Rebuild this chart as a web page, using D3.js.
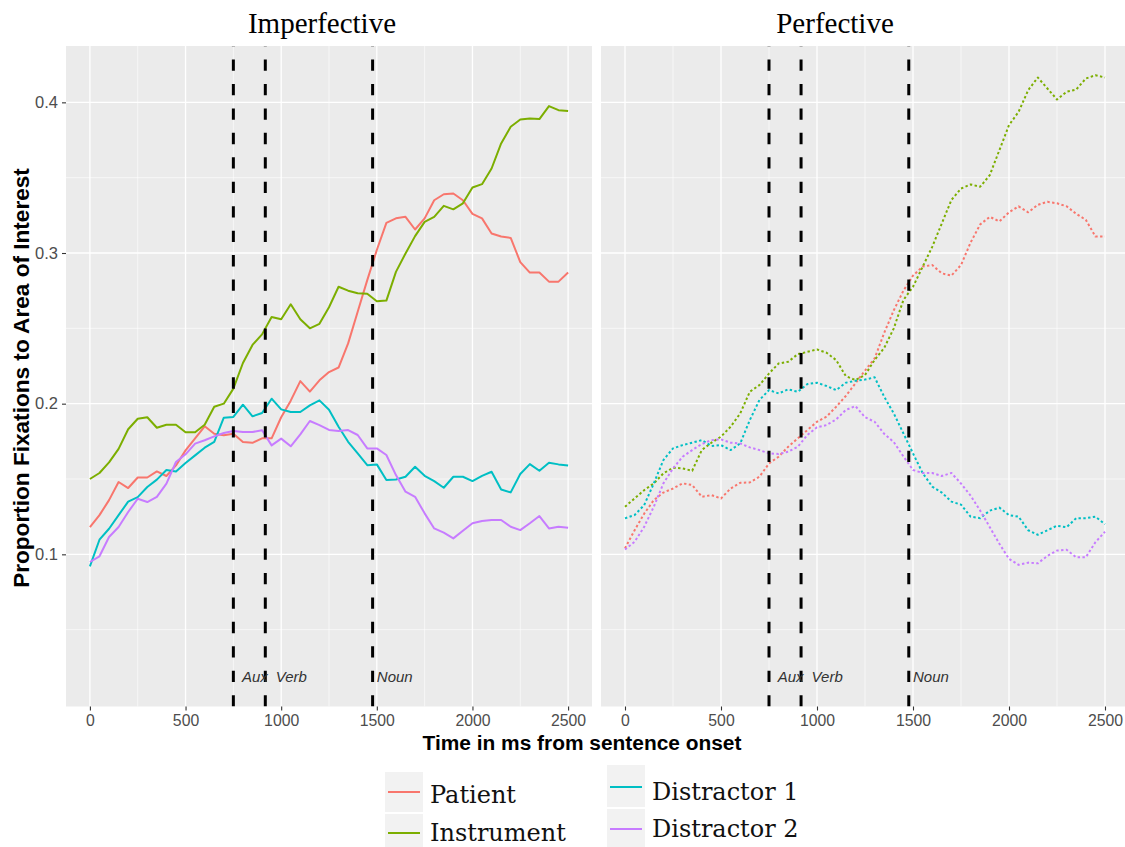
<!DOCTYPE html>
<html>
<head>
<meta charset="utf-8">
<script src="https://cdn.jsdelivr.net/npm/d3@7"></script>
<style>
  html, body { margin: 0; padding: 0; background: #fff; }
  svg { display: block; }
</style>
</head>
<body>
<svg id="chart" width="1125" height="847"></svg>
<script>
// ---------------- DATA ----------------
const panels = ["Imperfective", "Perfective"];
const seriesNames = ["Patient", "Instrument", "Distractor 1", "Distractor 2"];
const seriesColors = ["#F8766D", "#7CAE00", "#00BFC4", "#C77CFF"];

const times = [0, 50, 100, 150, 200, 250, 300, 350, 400, 450, 500, 550, 600, 650, 700, 750, 800, 850, 900, 950,
  1000, 1050, 1100, 1150, 1200, 1250, 1300, 1350, 1400, 1450, 1500, 1550, 1600, 1650, 1700, 1750, 1800, 1850, 1900, 1950,
  2000, 2050, 2100, 2150, 2200, 2250, 2300, 2350, 2400, 2450, 2500];

// Imperfective (solid lines)
const impPatient = [0.118, 0.126, 0.136, 0.148, 0.144, 0.151, 0.151, 0.155, 0.152, 0.159, 0.169, 0.177, 0.185, 0.180, 0.179, 0.180, 0.1746, 0.174, 0.177, 0.177,
  0.191, 0.202, 0.215, 0.208, 0.2155, 0.221, 0.224, 0.240, 0.261, 0.282, 0.302, 0.320, 0.323, 0.324, 0.3156, 0.323, 0.335, 0.339, 0.3395, 0.335,
  0.326, 0.323, 0.313, 0.311, 0.310, 0.294, 0.287, 0.287, 0.281, 0.281, 0.287];
const impInstrument = [0.150, 0.154, 0.161, 0.170, 0.183, 0.190, 0.191, 0.184, 0.186, 0.186, 0.181, 0.181, 0.186, 0.198, 0.200, 0.210, 0.227, 0.239, 0.246, 0.2575,
  0.256, 0.266, 0.256, 0.250, 0.253, 0.264, 0.2776, 0.275, 0.2733, 0.273, 0.268, 0.2684, 0.2875, 0.2997, 0.3112, 0.3207, 0.324, 0.3313, 0.329, 0.333,
  0.3435, 0.3457, 0.3561, 0.3727, 0.3838, 0.3886, 0.3893, 0.3889, 0.3975, 0.3948, 0.3942];
const impDistractor1 = [0.092, 0.1097, 0.117, 0.126, 0.135, 0.138, 0.1447, 0.1496, 0.156, 0.155, 0.1606, 0.1657, 0.1708, 0.1746, 0.1907, 0.1912, 0.1993, 0.1916, 0.1938, 0.2033,
  0.1962, 0.1945, 0.1945, 0.1989, 0.2022, 0.196, 0.1847, 0.1747, 0.167, 0.1592, 0.1597, 0.1493, 0.1497, 0.1515, 0.1581, 0.1521, 0.1486, 0.1442, 0.1515, 0.1515,
  0.1486, 0.1521, 0.1548, 0.1430, 0.1411, 0.1533, 0.1599, 0.1555, 0.1608, 0.1597, 0.1590];
const impDistractor2 = [0.0949, 0.0987, 0.1115, 0.1181, 0.1281, 0.1369, 0.1347, 0.1381, 0.1469, 0.1613, 0.1664, 0.1735, 0.1757, 0.1783, 0.1805, 0.1819, 0.1812, 0.1812, 0.1823, 0.1723,
  0.1768, 0.1717, 0.1796, 0.1885, 0.1858, 0.1826, 0.1818, 0.1825, 0.1792, 0.1703, 0.1703, 0.1659, 0.1526, 0.1416, 0.1382, 0.1272, 0.1172, 0.1144, 0.1106, 0.1157,
  0.1206, 0.1221, 0.1228, 0.1228, 0.1183, 0.1161, 0.1206, 0.1254, 0.1172, 0.1183, 0.1177];

// Perfective (dotted lines)
const perfPatient = [0.104, 0.116, 0.127, 0.136, 0.141, 0.1437, 0.1471, 0.146, 0.1382, 0.1393, 0.1371, 0.1437, 0.1475, 0.1477, 0.1515, 0.1603, 0.1648, 0.1714, 0.177, 0.1825,
  0.188, 0.1914, 0.198, 0.2051, 0.2135, 0.222, 0.230, 0.247, 0.262, 0.275, 0.285, 0.291, 0.292, 0.2865, 0.285, 0.292, 0.307, 0.319, 0.324, 0.321,
  0.327, 0.331, 0.327, 0.332, 0.334, 0.333, 0.331, 0.326, 0.322, 0.311, 0.311];
const perfInstrument = [0.1316, 0.1371, 0.1426, 0.1471, 0.1537, 0.1575, 0.157, 0.1555, 0.1692, 0.1741, 0.1781, 0.1847, 0.1935, 0.2079, 0.2123, 0.220, 0.2267, 0.2278, 0.2329, 0.2344,
  0.236, 0.2338, 0.2289, 0.2183, 0.2157, 0.219, 0.229, 0.237, 0.250, 0.2688, 0.2776, 0.2908, 0.3041, 0.3196, 0.3352, 0.3428, 0.3455, 0.344, 0.3517, 0.3683,
  0.3849, 0.3937, 0.4081, 0.4165, 0.4092, 0.4019, 0.407, 0.4085, 0.4158, 0.418, 0.4165];
const perfDistractor1 = [0.1239, 0.1261, 0.1327, 0.1471, 0.1626, 0.1703, 0.1725, 0.1741, 0.1758, 0.1719, 0.1725, 0.1692, 0.1736, 0.1891, 0.2024, 0.209, 0.2068, 0.2095, 0.2079, 0.213,
  0.2139, 0.2117, 0.209, 0.2139, 0.2152, 0.216, 0.2175, 0.2046, 0.1935, 0.1803, 0.167, 0.154, 0.145, 0.141, 0.135, 0.133, 0.125, 0.124, 0.129, 0.131,
  0.126, 0.125, 0.116, 0.113, 0.116, 0.119, 0.118, 0.124, 0.124, 0.125, 0.120];
const perfDistractor2 = [0.1032, 0.1083, 0.1183, 0.1316, 0.1471, 0.157, 0.1648, 0.1692, 0.1732, 0.1758, 0.1763, 0.1741, 0.1736, 0.171, 0.1692, 0.167, 0.1666, 0.1681, 0.1714, 0.1792,
  0.1843, 0.1858, 0.1896, 0.1958, 0.1984, 0.191, 0.188, 0.180, 0.1745, 0.165, 0.156, 0.154, 0.154, 0.152, 0.154, 0.147, 0.139, 0.129, 0.118, 0.107,
  0.097, 0.093, 0.0945, 0.094, 0.099, 0.1025, 0.103, 0.098, 0.098, 0.108, 0.115];

const xTicks = [0, 500, 1000, 1500, 2000, 2500];
const xMinor = [250, 750, 1250, 1750, 2250];
const yTicks = [0.1, 0.2, 0.3, 0.4];
const yMinor = [0.05, 0.15, 0.25, 0.35];

const markerTimes = [750, 917, 1478];
const markerLabels = ["Aux", "Verb", "Noun"];
const markerLabelTimes = [795, 972, 1500];
const markerLabelValue = 0.019;

const xDomain = [-125, 2625];
const yDomain = [-0.001, 0.4374];

// ---------------- DRAW ----------------
const svg = d3.select("#chart");
svg.append("rect").attr("width", 1125).attr("height", 847).attr("fill", "#fff");

const panelData = [
  { name: panels[0], series: [impPatient, impInstrument, impDistractor1, impDistractor2], dash: null, range: [66, 592], titleX: 322 },
  { name: panels[1], series: [perfPatient, perfInstrument, perfDistractor1, perfDistractor2], dash: "2.4,2.4", range: [601, 1129], titleX: 835 }
];

const y = d3.scaleLinear().domain(yDomain).range([706.5, 46]);
const pTop = y.range()[1], pBottom = y.range()[0];

panelData.forEach((p, pi) => {
  const x = d3.scaleLinear().domain(xDomain).range(p.range);
  const g = svg.append("g");
  const [x0, x1] = p.range;

  g.append("rect").attr("x", x0).attr("y", pTop).attr("width", x1 - x0).attr("height", pBottom - pTop).attr("fill", "#EBEBEB");

  const clipId = "clip" + pi;
  svg.append("clipPath").attr("id", clipId).append("rect")
    .attr("x", x0).attr("y", pTop).attr("width", x1 - x0).attr("height", pBottom - pTop);

  // minor grid
  g.selectAll(".ymin").data(yMinor).enter().append("line")
    .attr("x1", x0).attr("x2", x1).attr("y1", d => y(d)).attr("y2", d => y(d))
    .attr("stroke", "#fff").attr("stroke-width", 0.6);
  g.selectAll(".xmin").data(xMinor).enter().append("line")
    .attr("y1", pTop).attr("y2", pBottom).attr("x1", d => x(d)).attr("x2", d => x(d))
    .attr("stroke", "#fff").attr("stroke-width", 0.6);
  // major grid
  g.selectAll(".ymaj").data(yTicks).enter().append("line")
    .attr("x1", x0).attr("x2", x1).attr("y1", d => y(d)).attr("y2", d => y(d))
    .attr("stroke", "#fff").attr("stroke-width", 1.3);
  g.selectAll(".xmaj").data(xTicks).enter().append("line")
    .attr("y1", pTop).attr("y2", pBottom).attr("x1", d => x(d)).attr("x2", d => x(d))
    .attr("stroke", "#fff").attr("stroke-width", 1.3);

  // series lines
  const lineGen = d3.line().x((d, i) => x(times[i])).y(d => y(d));
  const lg = g.append("g").attr("clip-path", `url(#${clipId})`);
  p.series.forEach((vals, si) => {
    lg.append("path").datum(vals)
      .attr("d", lineGen)
      .attr("fill", "none")
      .attr("stroke", seriesColors[si])
      .attr("stroke-width", 2)
      .attr("stroke-linejoin", "round")
      .attr("stroke-dasharray", p.dash);
  });

  // vertical marker lines (drawn bottom to top)
  lg.selectAll(".vl").data(markerTimes).enter().append("line")
    .attr("x1", d => x(d)).attr("x2", d => x(d))
    .attr("y1", pBottom).attr("y2", pTop)
    .attr("stroke", "#000").attr("stroke-width", 3)
    .attr("stroke-dasharray", "11.3,13.15");

  // marker labels
  g.selectAll(".ml").data(markerLabels).enter().append("text")
    .attr("x", (d, i) => x(markerLabelTimes[i]))
    .attr("y", y(markerLabelValue))
    .attr("dy", "0.35em")
    .attr("font-family", "Liberation Sans, Arial, sans-serif")
    .attr("font-style", "italic")
    .attr("font-size", 15)
    .attr("fill", "#333")
    .text(d => d);

  // x axis
  const xAxis = d3.axisBottom(x).tickValues(xTicks).tickSize(4).tickPadding(4).tickFormat(d3.format("d"));
  const ax = svg.append("g").attr("transform", `translate(0,${pBottom})`).call(xAxis);
  ax.select(".domain").remove();
  ax.selectAll(".tick line").attr("stroke", "#333").attr("stroke-width", 1.1);
  ax.selectAll(".tick text").attr("font-family", "Liberation Sans, Arial, sans-serif")
    .attr("font-size", 15.8).attr("fill", "#4D4D4D");

  // strip title
  svg.append("text").attr("x", p.titleX).attr("y", 33)
    .attr("text-anchor", "middle")
    .attr("font-family", "Liberation Serif, Times New Roman, serif")
    .attr("font-size", 29).attr("fill", "#000")
    .text(p.name);
});

// y axis
const yAxis = d3.axisLeft(y).tickValues(yTicks).tickSize(4).tickPadding(4).tickFormat(d3.format(".1f"));
const ay = svg.append("g").attr("transform", "translate(66,0)").call(yAxis);
ay.select(".domain").remove();
ay.selectAll(".tick line").attr("stroke", "#333").attr("stroke-width", 1.1);
ay.selectAll(".tick text").attr("font-family", "Liberation Sans, Arial, sans-serif")
  .attr("font-size", 16.5).attr("fill", "#4D4D4D");

// axis titles
svg.append("text").attr("x", 582).attr("y", 750).attr("text-anchor", "middle")
  .attr("font-family", "Liberation Sans, Arial, sans-serif").attr("font-weight", "bold")
  .attr("font-size", 20.9).attr("fill", "#000")
  .text("Time in ms from sentence onset");
svg.append("text").attr("transform", "translate(29,378) rotate(-90)").attr("text-anchor", "middle")
  .attr("font-family", "Liberation Sans, Arial, sans-serif").attr("font-weight", "bold")
  .attr("font-size", 22.6).attr("fill", "#000")
  .text("Proportion Fixations to Area of Interest");

// legend
const legendKeys = [
  { x: 385, y: 772, h: 40, lineY: 792, textY: 803 },
  { x: 385, y: 814, h: 40, lineY: 833, textY: 841 },
  { x: 607, y: 765, h: 42, lineY: 787, textY: 800 },
  { x: 607, y: 809, h: 40, lineY: 829, textY: 837 }
];
const lgG = svg.append("g");
seriesNames.forEach((name, i) => {
  const k = legendKeys[i];
  lgG.append("rect").attr("x", k.x).attr("y", k.y).attr("width", 38).attr("height", k.h).attr("fill", "#F2F2F2");
  lgG.append("line").attr("x1", k.x + 3).attr("x2", k.x + 35).attr("y1", k.lineY).attr("y2", k.lineY)
    .attr("stroke", seriesColors[i]).attr("stroke-width", 2);
  lgG.append("text").attr("x", k.x + 45).attr("y", k.textY)
    .attr("font-family", "DejaVu Serif, serif").attr("font-size", 24).attr("fill", "#111")
    .text(name);
});
</script>
</body>
</html>
